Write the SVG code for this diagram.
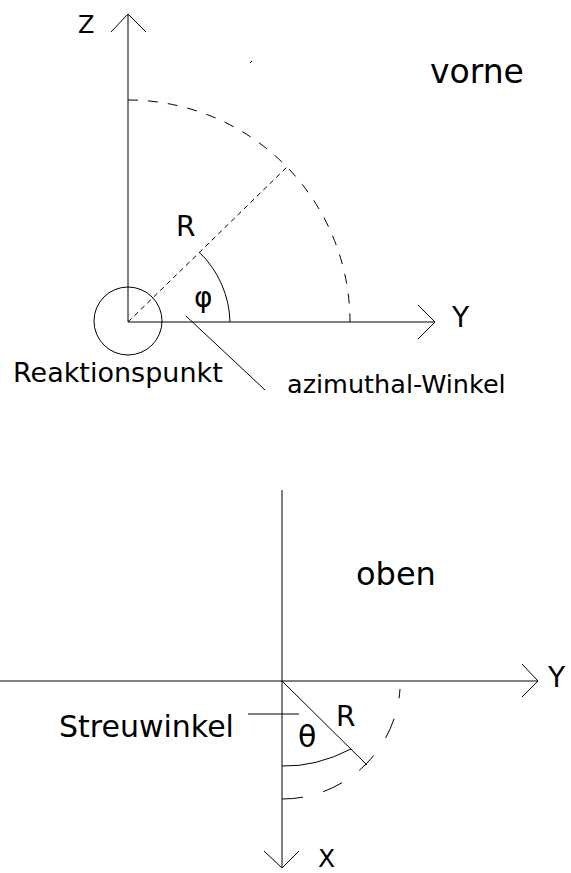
<svg xmlns="http://www.w3.org/2000/svg" width="571" height="873" viewBox="0 0 571 873">
<style>
.l{fill:none;stroke:#000;stroke-width:1}
.t{font-family:"DejaVu Sans",sans-serif;fill:#000}
</style>
<rect width="571" height="873" fill="#fff"/>
<g id="connectors">
<line class="l" x1="128" y1="14" x2="128" y2="322"/>
<polyline class="l" points="111,32 128,14 146,32"/>
<line class="l" x1="128" y1="322" x2="435" y2="322"/>
<polyline class="l" points="418,305 435,322 418,339"/>
<path class="l" d="M128,100 A222,222 0 0 1 350,322" stroke-dasharray="10,10"/>
<line class="l" x1="128" y1="322" x2="287" y2="167" stroke-dasharray="5,4"/>
<path class="l" d="M199,252 A100,100 0 0 1 230,322"/>
<line class="l" x1="186" y1="316" x2="265" y2="390"/>
<line class="l" x1="250" y1="63" x2="252" y2="61"/>
<line class="l" x1="282" y1="490" x2="282" y2="868"/>
<polyline class="l" points="264,851 282,868 299,851"/>
<line class="l" x1="0" y1="681" x2="538" y2="681"/>
<polyline class="l" points="522,664 538,681 522,697"/>
<line class="l" x1="282" y1="681" x2="367" y2="765"/>
<path class="l" d="M282,766 Q316,767 351,749"/>
<path class="l" d="M282,799 A118,118 0 0 0 400,689" stroke-dasharray="21,21"/>
<line class="l" x1="248" y1="714" x2="299" y2="714"/>
</g>
<g id="reaktionspunkt"><circle class="l" cx="128" cy="321" r="34"/></g>
<g id="labels">
<text class="t" x="78" y="33" font-size="24">Z</text>
<text class="t" x="452" y="327" font-size="28">Y</text>
<text class="t" x="430" y="83" font-size="33">vorne</text>
<text class="t" x="176" y="236" font-size="28">R</text>
<text class="t" x="194" y="307" font-size="28">φ</text>
<text class="t" x="13" y="382" font-size="27">Reaktionspunkt</text>
<text class="t" x="287" y="393" font-size="25.5">azimuthal-Winkel</text>
<text class="t" x="356" y="585" font-size="32">oben</text>
<text class="t" x="548" y="687" font-size="28">Y</text>
<text class="t" x="59" y="737" font-size="30">Streuwinkel</text>
<text class="t" x="298" y="747" font-size="30">θ</text>
<text class="t" x="336" y="726" font-size="28">R</text>
<text class="t" x="318" y="867" font-size="25">X</text>
</g>
</svg>
